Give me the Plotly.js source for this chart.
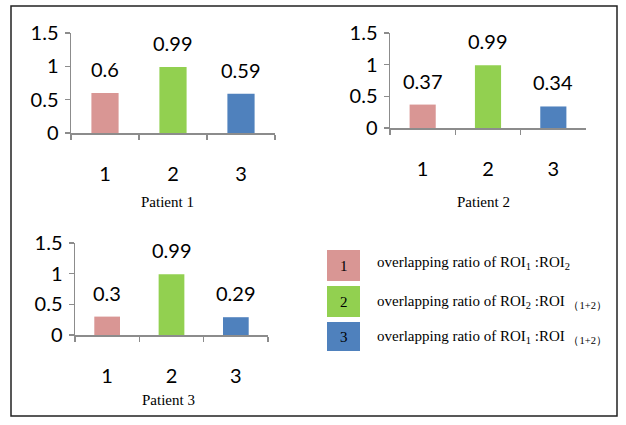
<!DOCTYPE html>
<html>
<head>
<meta charset="utf-8">
<script src="https://cdn.plot.ly/plotly-3.0.1.min.js"></script>
<style>html,body{margin:0;padding:0;background:#fff;}#chart{width:626px;height:425px;}</style>
</head>
<body>
<div id="chart"></div>
<script>
var categories = ['1', '2', '3'];
var patientNames = ['Patient 1', 'Patient 2', 'Patient 3'];
var patient1 = [0.6, 0.99, 0.59];
var patient2 = [0.37, 0.99, 0.34];
var patient3 = [0.3, 0.99, 0.29];
var valueLabels1 = ['0.6', '0.99', '0.59'];
var valueLabels2 = ['0.37', '0.99', '0.34'];
var valueLabels3 = ['0.3', '0.99', '0.29'];
var yTickVals = [0, 0.5, 1, 1.5];
var yTickText = ['0', '0.5', '1', '1.5'];
var barColors = ['#D99694', '#92D050', '#4F81BD'];
var legendTexts = [
  'overlapping ratio of ROI<sub>1</sub> :ROI<sub>2</sub>',
  'overlapping ratio of ROI<sub>2</sub> :ROI <sub>（1+2）</sub>',
  'overlapping ratio of ROI<sub>1</sub> :ROI <sub>（1+2）</sub>'
];

var W = 626, H = 425;
function px(x) { return x / W; }
function py(y) { return 1 - y / H; }

var series = [patient1, patient2, patient3];
var labels = [valueLabels1, valueLabels2, valueLabels3];
var panels = [
  {x0: 71, x1: 275, yb: 133, yt: 33, title: [167, 202]},
  {x0: 390, x1: 586, yb: 128, yt: 33, title: [483, 202]},
  {x0: 75, x1: 268, yb: 335, yt: 243, title: [168, 400]}
];

var tickFont = {family: 'Lato, "Open Sans", sans-serif', size: 20, color: '#000'};
var serif = {family: '"Liberation Serif", "Times New Roman", serif', size: 15, color: '#000'};

var traces = [];
var layout = {
  width: W, height: H,
  margin: {l: 0, r: 0, t: 0, b: 0},
  paper_bgcolor: '#fff', plot_bgcolor: '#fff',
  showlegend: false,
  annotations: [], shapes: []
};

for (var i = 0; i < 3; i++) {
  var sx = i === 0 ? '' : String(i + 1);
  traces.push({
    type: 'bar', x: categories, y: series[i],
    xaxis: 'x' + sx, yaxis: 'y' + sx,
    width: 0.4,
    marker: {color: barColors, line: {width: 0}},
    hoverinfo: 'none'
  });
  var p = panels[i];
  layout['xaxis' + sx] = {
    domain: [px(p.x0), px(p.x1)],
    anchor: 'y' + sx,
    type: 'category',
    range: [-0.5, 2.5],
    showline: true, linecolor: '#8c8c8c', linewidth: 1.5,
    ticks: 'outside', tickson: 'boundaries', ticklen: 5, tickcolor: '#8c8c8c', tickwidth: 1.5,
    showgrid: false, zeroline: false,
    tickfont: tickFont,
    ticklabelstandoff: 22,
    fixedrange: true
  };
  layout['yaxis' + sx] = {
    domain: [py(p.yb), py(p.yt)],
    anchor: 'x' + sx,
    range: [0, 1.5],
    tickvals: yTickVals, ticktext: yTickText,
    showline: true, linecolor: '#8c8c8c', linewidth: 1.5,
    ticks: 'outside', ticklen: 5, tickcolor: '#8c8c8c', tickwidth: 1.5,
    showgrid: false, zeroline: false,
    tickfont: tickFont,
    ticklabelstandoff: 2,
    fixedrange: true
  };
  for (var j = 0; j < 3; j++) {
    layout.annotations.push({
      xref: 'x' + sx, yref: 'y' + sx,
      x: j, y: series[i][j],
      text: labels[i][j], showarrow: false,
      yanchor: 'bottom', yshift: 10,
      font: tickFont
    });
  }
  layout.annotations.push({
    xref: 'paper', yref: 'paper',
    x: px(p.title[0]), y: py(p.title[1]),
    text: patientNames[i], showarrow: false,
    xanchor: 'center', yanchor: 'middle',
    font: serif
  });
}

// legend boxes
var legendBoxes = [[250, 281], [286, 317], [322, 351]];
var legendTextY = [263, 302, 337];
for (var k = 0; k < 3; k++) {
  layout.shapes.push({
    type: 'rect', xref: 'paper', yref: 'paper',
    x0: px(327), x1: px(360), y0: py(legendBoxes[k][1]), y1: py(legendBoxes[k][0]),
    fillcolor: barColors[k], line: {width: 0}
  });
  layout.annotations.push({
    xref: 'paper', yref: 'paper',
    x: px(343.5), y: py((legendBoxes[k][0] + legendBoxes[k][1]) / 2),
    text: categories[k], showarrow: false,
    xanchor: 'center', yanchor: 'middle',
    font: serif
  });
  layout.annotations.push({
    xref: 'paper', yref: 'paper',
    x: px(375), y: py(legendTextY[k]),
    text: legendTexts[k], showarrow: false,
    xanchor: 'left', yanchor: 'middle',
    font: serif
  });
}

// outer frame
layout.shapes.push({
  type: 'rect', xref: 'paper', yref: 'paper',
  x0: px(11), x1: px(617), y0: py(416), y1: py(6),
  line: {color: '#222', width: 1.5}, fillcolor: 'rgba(0,0,0,0)'
});

Plotly.newPlot('chart', traces, layout, {displayModeBar: false, staticPlot: true});
</script>
</body>
</html>
